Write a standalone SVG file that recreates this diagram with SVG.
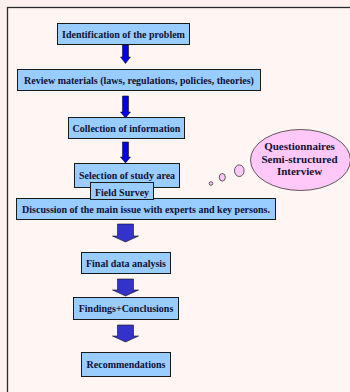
<svg xmlns="http://www.w3.org/2000/svg" width="350" height="392" viewBox="0 0 350 392">
<style>
.box{fill:#99ccff;stroke:#1a1a1a;stroke-width:1}
.t{font-family:"Liberation Serif","Times New Roman",serif;font-weight:bold;font-size:10px;fill:#111133;text-anchor:middle}
.te{font-family:"Liberation Serif","Times New Roman",serif;font-weight:bold;font-size:11px;fill:#111133;text-anchor:middle}
.thin{fill:#0000ee;stroke:#111;stroke-width:0.6}
.big{fill:#3333cc;stroke:#111;stroke-width:0.6}
.bub{fill:#ffc8f8;stroke:#333;stroke-width:0.8}
</style>
<rect x="0" y="0" width="350" height="392" fill="#fff0f0"/>
<rect x="7.5" y="7.5" width="350" height="392" fill="#fff6f4" stroke="#2a2a2a" stroke-width="1.3"/>
<g id="connectors">
<path class="thin" d="M122.5 45 H128.5 V57 H130.5 L125.5 63.5 L120.5 57 H122.5 Z"/>
<path class="thin" d="M122.5 96 H128.5 V112 H130.5 L125.5 118 L120.5 112 H122.5 Z"/>
<path class="thin" d="M122.5 142 H128.5 V157 H130.5 L125.5 163 L120.5 157 H122.5 Z"/>
<path class="big" d="M117.5 224 H133.5 V236 H138.5 L125.5 242 L112.5 236 H117.5 Z"/>
<path class="big" d="M117.5 279 H133.5 V290 H138.5 L125.5 296 L112.5 290 H117.5 Z"/>
<path class="big" d="M117.5 325 H133.5 V336 H138.5 L125.5 342 L112.5 336 H117.5 Z"/>
</g>
<g id="n1"><rect class="box" x="57.5" y="23.5" width="132" height="21"/><text class="t" x="123.5" y="37.5">Identification of the problem</text></g>
<g id="n2"><rect class="box" x="17.5" y="69.5" width="243" height="21"/><text class="t" x="139" y="83.5">Review materials (laws, regulations, policies, theories)</text></g>
<g id="n3"><rect class="box" x="68.5" y="117.5" width="116" height="21"/><text class="t" x="126.5" y="131.5">Collection of information</text></g>
<g id="n4"><rect class="box" x="74.5" y="163.5" width="105" height="24"/><text class="t" x="127" y="179">Selection of study area</text></g>
<g id="n6"><rect class="box" x="16.5" y="198.5" width="259" height="21"/><text class="t" x="146" y="212.5">Discussion of the main issue with experts and key persons.</text></g>
<g id="n5"><rect class="box" x="90.5" y="182.5" width="63" height="17"/><text class="t" x="122" y="195.5">Field Survey</text></g>
<g id="n7"><rect class="box" x="81.5" y="252.5" width="89" height="21"/><text class="t" x="126" y="266.5">Final data analysis</text></g>
<g id="n8"><rect class="box" x="73.5" y="297.5" width="105" height="22"/><text class="t" x="126" y="312">Findings+Conclusions</text></g>
<g id="n9"><rect class="box" x="81.5" y="352.5" width="89" height="24"/><text class="t" x="126" y="368">Recommendations</text></g>
<g id="bubble">
<ellipse class="bub" cx="211" cy="183.5" rx="1.8" ry="1.8"/>
<ellipse class="bub" cx="222.3" cy="177.3" rx="3" ry="3.8"/>
<ellipse class="bub" cx="239.3" cy="170.7" rx="4.8" ry="5.8"/>
<ellipse class="bub" cx="300.5" cy="160" rx="50" ry="30.5"/>
<text class="te" x="299.5" y="150">Questionnaires</text>
<text class="te" x="299.5" y="162.5">Semi-structured</text>
<text class="te" x="299.5" y="175">Interview</text>
</g>
</svg>
